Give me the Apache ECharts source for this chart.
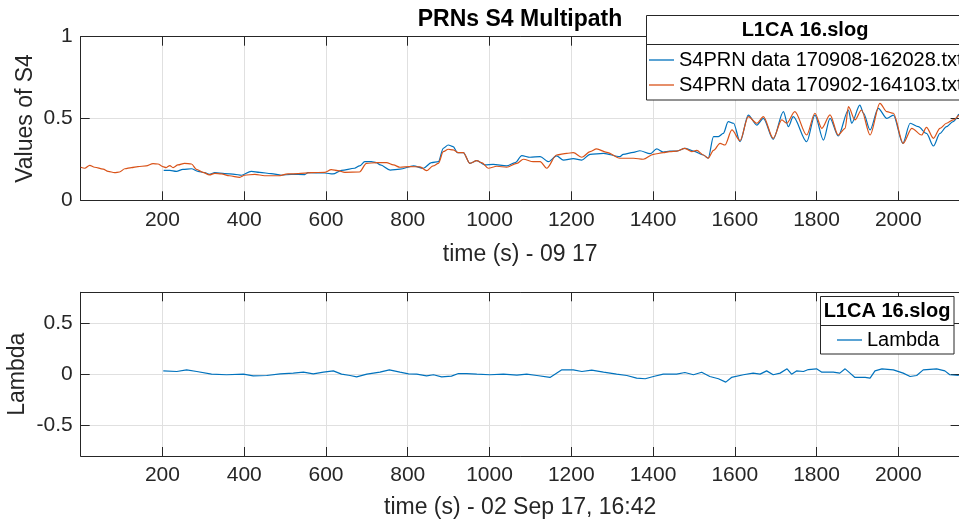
<!DOCTYPE html>
<html>
<head>
<meta charset="utf-8">
<script src="https://cdn.jsdelivr.net/npm/echarts@6/dist/echarts.min.js"></script>
<style>
  html, body { margin: 0; padding: 0; background: #fff; }
  #chart { width: 959px; height: 521px; }
</style>
</head>
<body>
<div id="chart"></div>
<script>
// S4 index, receiver log of 08 Sep 2017 (time in seconds)
const s4TimeA = [203, 218, 234, 250, 271, 287, 303, 315, 328, 352, 377, 393, 417, 438, 466, 491, 515, 548, 556, 597, 617, 638, 670, 682, 695, 711, 723,
  733, 757, 781, 814, 838, 858, 875, 887, 899, 911, 922, 936, 952, 969, 989, 1009, 1042, 1063, 1079, 1099, 1124, 1144, 1164, 1181, 1205, 1226, 1246, 1279, 1319, 1327, 1352, 1368, 1393, 1409, 1425, 1441,
  1458, 1478, 1499, 1523, 1535, 1548, 1560, 1572, 1584, 1597, 1613, 1633, 1654, 1670, 1694, 1719, 1731, 1743, 1776, 1796, 1817, 1833, 1853, 1878, 1886, 1906, 1915, 1931, 1951, 1972, 1988, 2011, 2029, 2049, 2069, 2086, 2102, 2118, 2134, 2148];
const s4ValA = [0.183, 0.183, 0.177, 0.189, 0.193, 0.177, 0.169, 0.159, 0.169, 0.163, 0.159, 0.153, 0.177, 0.171, 0.163, 0.153, 0.159, 0.157, 0.169, 0.167, 0.161, 0.183, 0.196, 0.210, 0.236, 0.236, 0.230,
  0.216, 0.185, 0.191, 0.210, 0.196, 0.230, 0.236, 0.318, 0.338, 0.328, 0.291, 0.291, 0.226, 0.242, 0.216, 0.220, 0.210, 0.230, 0.273, 0.263, 0.267, 0.236, 0.271, 0.246, 0.255, 0.246, 0.281, 0.287, 0.267, 0.281, 0.293, 0.303, 0.285, 0.314, 0.295, 0.301,
  0.301, 0.318, 0.301, 0.277, 0.257, 0.389, 0.389, 0.409, 0.481, 0.471, 0.358, 0.521, 0.460, 0.501, 0.373, 0.542, 0.450, 0.511, 0.358, 0.521, 0.368, 0.501, 0.393, 0.552, 0.471, 0.582, 0.532, 0.430, 0.562, 0.501, 0.521, 0.348, 0.471, 0.450, 0.409, 0.332, 0.409, 0.450, 0.481, 0.527];

// S4 index, receiver log of 02 Sep 2017
const s4TimeB = [0, 10, 22, 34, 55, 67, 83, 95, 108, 124, 140, 160, 177, 189, 201, 209, 218, 226, 238, 254, 271, 283, 299, 315, 328, 344, 364, 389, 401, 426, 450, 483, 507, 532, 564, 597, 613, 629, 646, 682, 699, 723,
  748, 765, 781, 805, 830, 846, 862, 875, 887, 899, 911, 924, 936, 952, 969, 981, 997, 1018, 1042, 1067, 1083, 1107, 1124, 1140, 1164, 1189, 1205, 1226, 1246, 1262, 1287, 1319, 1352, 1376, 1401, 1425,
  1441, 1458, 1478, 1495, 1507, 1523, 1535, 1548, 1564, 1576, 1593, 1613, 1633, 1654, 1670, 1694, 1715, 1727, 1747, 1776, 1796, 1813, 1833, 1853, 1870, 1878, 1894, 1910, 1931, 1955, 1972, 1988, 2012, 2033, 2057, 2069, 2086, 2102, 2118, 2134, 2148];
const s4ValB = [0.202, 0.196, 0.214, 0.202, 0.191, 0.177, 0.169, 0.173, 0.193, 0.200, 0.206, 0.210, 0.224, 0.222, 0.206, 0.200, 0.212, 0.200, 0.216, 0.226, 0.222, 0.189, 0.171, 0.155, 0.165, 0.161, 0.150, 0.140, 0.153, 0.159, 0.150, 0.150, 0.161, 0.163, 0.169, 0.171, 0.187, 0.181, 0.171, 0.173, 0.226, 0.230,
  0.230, 0.216, 0.202, 0.206, 0.204, 0.181, 0.210, 0.226, 0.297, 0.312, 0.308, 0.291, 0.291, 0.226, 0.242, 0.230, 0.196, 0.208, 0.202, 0.226, 0.251, 0.236, 0.236, 0.196, 0.277, 0.287, 0.291, 0.263, 0.297, 0.314, 0.293, 0.257, 0.257, 0.251, 0.281, 0.291,
  0.297, 0.301, 0.318, 0.297, 0.305, 0.277, 0.257, 0.305, 0.348, 0.338, 0.430, 0.364, 0.511, 0.471, 0.511, 0.379, 0.491, 0.471, 0.542, 0.399, 0.532, 0.440, 0.522, 0.399, 0.440, 0.572, 0.491, 0.552, 0.399, 0.593, 0.542, 0.532, 0.348, 0.440, 0.399, 0.446, 0.379, 0.440, 0.471, 0.491, 0.521];

// Lambda, 02 Sep 2017 16:42
const lambdaTime = [202, 235, 259, 284, 320, 357, 398, 422, 455, 488, 520, 545, 569, 594, 618, 638, 659, 675, 700, 732, 755, 781, 802, 822, 846, 863, 883, 907, 924, 944, 969, 1001, 1034, 1067, 1091, 1116, 1148,
  1177, 1205, 1226, 1250, 1279, 1311, 1336, 1360, 1381, 1401, 1425, 1458, 1478, 1499, 1519, 1539, 1560, 1578, 1592, 1621, 1645, 1662, 1678, 1694, 1711, 1728, 1739, 1751, 1768, 1780, 1800, 1813, 1841, 1857, 1870, 1882, 1894, 1919, 1931, 1943, 1960, 1988, 2012, 2029, 2045, 2061, 2094, 2114, 2126, 2148];
const lambdaVal = [0.032, 0.026, 0.042, 0.026, 0.000, -0.006, 0.000, -0.016, -0.013, 0.003, 0.010, 0.019, 0.003, 0.019, 0.032, 0.000, -0.013, -0.026, 0.000, 0.019, 0.042, 0.019, 0.003, 0.000, -0.016, -0.006, -0.026, -0.019, 0.006, 0.006, 0.000, -0.006, 0.000, -0.010, 0.000, -0.013, -0.032,
  0.042, 0.042, 0.026, 0.039, 0.019, 0.000, -0.013, -0.039, -0.045, -0.023, 0.000, 0.000, 0.016, -0.006, 0.019, -0.023, -0.045, -0.078, -0.032, -0.006, 0.010, 0.000, 0.032, -0.006, 0.010, 0.052, 0.000, 0.032, 0.026, 0.045, 0.052, 0.019, 0.019, 0.010, 0.052, 0.010, -0.032, -0.032, -0.039, 0.032, 0.052, 0.042, 0.010, -0.023, -0.013, 0.042, 0.052, 0.032, -0.006, -0.013];

const xTicks = [200, 400, 600, 800, 1000, 1200, 1400, 1600, 1800, 2000];
const s4Ticks = [0, 0.5, 1];
const lambdaTicks = [-0.5, 0, 0.5];

const seriesNameA = 'S4PRN data 170908-162028.txt';
const seriesNameB = 'S4PRN data 170902-164103.txt';
const legendTitle = 'L1CA 16.slog';

const BLUE = '#0072BD';
const ORANGE = '#D95319';
const AXIS = '#262626';
const GRID = '#e0e0e0';
const FONT = '"Liberation Sans", Arial, sans-serif';

const pairs = (t, v) => t.map((x, i) => [x, v[i]]);

const plotLeft = 80.7, plotWidth = 878.9;

function xAxes(gridIndex, name, nameGap) {
  return [{
    gridIndex, type: 'value', position: 'bottom', min: 0, max: 2150,
    axisLine: { onZero: false, lineStyle: { color: AXIS, width: 1 } },
    axisTick: { inside: true, length: 9, customValues: xTicks, lineStyle: { color: AXIS } },
    axisLabel: { customValues: xTicks, formatter: v => String(v), fontSize: 21, color: AXIS, margin: 9, fontFamily: FONT },
    splitLine: { show: true, lineStyle: { color: GRID, width: 1 } },
    name, nameLocation: 'middle', nameGap, nameMoveOverlap: false,
    nameTextStyle: { fontSize: 23, color: AXIS, fontFamily: FONT }
  }, {
    gridIndex, type: 'value', position: 'top', min: 0, max: 2150,
    axisLine: { onZero: false, lineStyle: { color: AXIS, width: 1 } },
    axisTick: { inside: true, length: 9, customValues: xTicks, lineStyle: { color: AXIS } },
    axisLabel: { show: false },
    splitLine: { show: false }
  }];
}

function yAxes(gridIndex, min, max, ticks, name, nameGap) {
  return [{
    gridIndex, type: 'value', position: 'left', min, max,
    axisLine: { show: true, onZero: false, lineStyle: { color: AXIS, width: 1 } },
    axisTick: { show: true, inside: true, length: 9, customValues: ticks, lineStyle: { color: AXIS } },
    axisLabel: { customValues: ticks, formatter: v => String(v), fontSize: 21, color: AXIS, margin: 8, fontFamily: FONT },
    splitLine: { show: true, lineStyle: { color: GRID, width: 1 } },
    name, nameLocation: 'middle', nameGap, nameRotate: 90, nameMoveOverlap: false,
    nameTextStyle: { fontSize: 23, color: AXIS, fontFamily: FONT }
  }, {
    gridIndex, type: 'value', position: 'right', min, max,
    axisLine: { show: true, onZero: false, lineStyle: { color: AXIS, width: 1 } },
    axisTick: { show: true, inside: true, length: 9, customValues: ticks, lineStyle: { color: AXIS } },
    axisLabel: { show: false },
    splitLine: { show: false }
  }];
}

const chart = echarts.init(document.getElementById('chart'), null, { renderer: 'canvas' });

const lineSeries = (name, data, color, xi, yi, smooth) => ({
  name, type: 'line', data, xAxisIndex: xi, yAxisIndex: yi,
  symbol: 'none', showSymbol: false, animation: false,
  smooth, smoothMonotone: 'x',
  lineStyle: { color, width: 1.2 }, itemStyle: { color }, z: 2
});

const legendText = { fontSize: 20, color: '#000', fontFamily: FONT };

chart.setOption({
  animation: false,
  backgroundColor: '#fff',
  grid: [
    { left: plotLeft, top: 36.7, width: plotWidth, height: 163.6, outerBoundsMode: 'none', containLabel: false },
    { left: plotLeft, top: 292.3, width: plotWidth, height: 163.7, outerBoundsMode: 'none', containLabel: false }
  ],
  xAxis: [
    ...xAxes(0, 'time (s) - 09 17', 43),
    ...xAxes(1, 'time (s) - 02 Sep 17, 16:42', 40)
  ],
  yAxis: [
    ...yAxes(0, 0, 1, s4Ticks, 'Values of S4', 44),
    ...yAxes(1, -0.8, 0.8, lambdaTicks, 'Lambda', 52)
  ],
  legend: [{
    data: [seriesNameA, seriesNameB],
    orient: 'vertical', left: 649, top: 50, itemGap: 5,
    icon: 'rect', itemWidth: 25, itemHeight: 1.3, padding: 0, z: 20,
    textStyle: legendText, selectedMode: false
  }, {
    data: ['Lambda'],
    orient: 'vertical', left: 837, top: 330,
    icon: 'rect', itemWidth: 25, itemHeight: 1.3, padding: 0, z: 20,
    textStyle: legendText, selectedMode: false
  }],
  graphic: [
    { type: 'text', x: 520, y: 8, z: 20, style: { text: 'PRNs S4 Multipath', fontSize: 23, fontWeight: 'bold', fill: '#000', textAlign: 'center', textVerticalAlign: 'top', fontFamily: FONT } },
    // legend frames
    { type: 'rect', z: 10, shape: { x: 646.5, y: 15.5, width: 330, height: 84.5 }, style: { fill: '#fff', stroke: AXIS, lineWidth: 1 } },
    { type: 'line', z: 11, shape: { x1: 646.5, y1: 44.5, x2: 980, y2: 44.5 }, style: { stroke: AXIS, lineWidth: 1 } },
    { type: 'text', z: 20, x: 805, y: 30, style: { text: legendTitle, fontSize: 20, fontWeight: 'bold', fill: '#000', textAlign: 'center', textVerticalAlign: 'middle', fontFamily: FONT } },
    { type: 'rect', z: 10, shape: { x: 820.5, y: 296.5, width: 133.5, height: 57.5 }, style: { fill: '#fff', stroke: AXIS, lineWidth: 1 } },
    { type: 'line', z: 11, shape: { x1: 820.5, y1: 325.5, x2: 954, y2: 325.5 }, style: { stroke: AXIS, lineWidth: 1 } },
    { type: 'text', z: 20, x: 887, y: 311, style: { text: legendTitle, fontSize: 20, fontWeight: 'bold', fill: '#000', textAlign: 'center', textVerticalAlign: 'middle', fontFamily: FONT } }
  ],
  series: [
    lineSeries(seriesNameA, pairs(s4TimeA, s4ValA), BLUE, 0, 0, 0.3),
    lineSeries(seriesNameB, pairs(s4TimeB, s4ValB), ORANGE, 0, 0, 0.3),
    lineSeries('Lambda', pairs(lambdaTime, lambdaVal), BLUE, 2, 2, false)
  ]
});
</script>
</body>
</html>
